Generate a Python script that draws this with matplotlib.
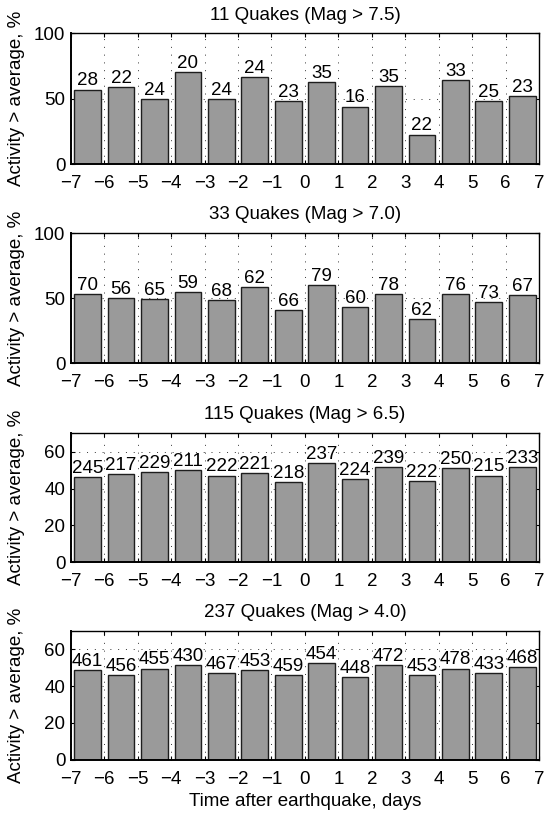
import numpy as np
import matplotlib
matplotlib.use('Agg')
import matplotlib.pyplot as plt

plt.rcParams['font.family'] = ['Liberation Sans', 'DejaVu Sans']
plt.rcParams['font.size'] = 13.5

# bin centres, days relative to the main shock
day_centres = [-6.5, -5.5, -4.5, -3.5, -2.5, -1.5, -0.5, 0.5, 1.5, 2.5, 3.5, 4.5, 5.5, 6.5]

titles = ['11 Quakes (Mag > 7.5)', '33 Quakes (Mag > 7.0)',
          '115 Quakes (Mag > 6.5)', '237 Quakes (Mag > 4.0)']

# percentage of days with activity above average
pct_75 = [57, 59, 50, 70.5, 50, 66.5, 48, 63, 44, 60, 22.5, 64, 48, 52]
pct_70 = [53, 50, 49.5, 54.5, 48.5, 58.5, 41, 60, 43.5, 53, 34, 53, 47, 52.5]
pct_65 = [46, 48, 49, 50, 47, 48.5, 43.5, 54, 45, 51.5, 44, 51, 47, 51.5]
pct_40 = [48.5, 46, 49.5, 51.5, 47, 48.5, 46, 52.5, 45, 51.5, 46, 49.5, 47, 50.5]

# number of events in each bin
cnt_75 = [28, 22, 24, 20, 24, 24, 23, 35, 16, 35, 22, 33, 25, 23]
cnt_70 = [70, 56, 65, 59, 68, 62, 66, 79, 60, 78, 62, 76, 73, 67]
cnt_65 = [245, 217, 229, 211, 222, 221, 218, 237, 224, 239, 222, 250, 215, 233]
cnt_40 = [461, 456, 455, 430, 467, 453, 459, 454, 448, 472, 453, 478, 433, 468]

ylims = [100, 100, 70, 70]
yticks = [[0, 50, 100], [0, 50, 100], [0, 20, 40, 60], [0, 20, 40, 60]]
pcts = [pct_75, pct_70, pct_65, pct_40]
cnts = [cnt_75, cnt_70, cnt_65, cnt_40]

fig = plt.figure(figsize=(5.45, 8.16), dpi=100)
# axes rectangles [left, bottom, width, height]
rects = [[0.130, 0.799, 0.859, 0.160],
         [0.130, 0.555, 0.859, 0.159],
         [0.130, 0.311, 0.859, 0.158],
         [0.130, 0.069, 0.859, 0.158]]

for i in range(4):
    ax = fig.add_axes(rects[i])
    ax.bar(day_centres, pcts[i], width=0.8, color='#9a9a9a',
           edgecolor='#1e1e1e', linewidth=1.0, zorder=2)
    for x, h, n in zip(day_centres, pcts[i], cnts[i]):
        ax.annotate(str(n), (x, h), xytext=(0, 3), textcoords='offset points',
                    ha='center', va='baseline', fontsize=13.5, zorder=3)
    ax.set_xlim(-7, 7)
    ax.set_ylim(0, ylims[i])
    ax.set_xticks(range(-7, 8))
    ax.set_yticks(yticks[i])
    ax.grid(True, linestyle=(0, (1, 7)), color='#333333', linewidth=0.7)
    ax.set_axisbelow(True)
    ax.tick_params(direction='in', length=3, top=True, right=True,
                   labelsize=13.5, width=0.8)
    ax.tick_params(axis='x', pad=8)
    ax.tick_params(axis='y', pad=4)
    for s in ax.spines.values():
        s.set_linewidth(1.0)
    ax.spines['left'].set_linewidth(1.4)
    ax.spines['bottom'].set_linewidth(1.4)
    ax.set_title(titles[i], fontsize=13.5, pad=10)
    ax.set_ylabel('Activity > average, %', fontsize=13.5)
    ax.yaxis.set_label_coords(-0.098, 0.5)
    if i == 3:
        ax.set_xlabel('Time after earthquake, days', fontsize=13.5, labelpad=4)

fig.savefig('out.png', dpi=100)
